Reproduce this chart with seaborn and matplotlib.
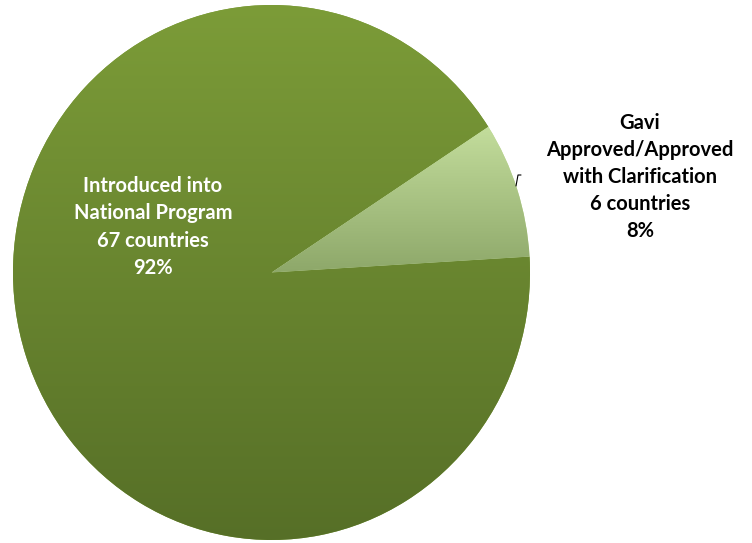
import matplotlib
matplotlib.use('Agg')
import matplotlib.pyplot as plt
import numpy as np
import seaborn as sns

## Data
CATEGORIES = ['Introduced into\nNational Program', 'Gavi\nApproved/Approved\nwith Clarification']
COUNTRIES = [67, 6]
PERCENT_LABELS = ['92%', '8%']

## Top and bottom colours of the gradient fill for each slice
GRADIENTS = [('#7c9c38', '#566f27'), ('#c3dd9c', '#8ea86a')]

sns.set_theme(style='white')
plt.rcParams['font.family'] = ['Lato', 'DejaVu Sans']

fig = plt.figure(figsize=(7.52, 5.43), dpi=100)
ax = fig.add_axes([13 / 752, 3 / 543, 517 / 752, 535 / 543])

wedges, _ = ax.pie(COUNTRIES, startangle=33, counterclock=True, radius=1.0,
                   colors=[g[0] for g in GRADIENTS], wedgeprops=dict(linewidth=0))
ax.set_aspect('auto')
ax.axis('off')

## Vertical gradient inside each wedge
for wedge, (top, bottom) in zip(wedges, GRADIENTS):
    path = wedge.get_path().transformed(wedge.get_patch_transform())
    ymin, ymax = path.vertices[:, 1].min(), path.vertices[:, 1].max()
    cmap = matplotlib.colors.LinearSegmentedColormap.from_list('g', [bottom, top])
    grad = np.linspace(0, 1, 256).reshape(-1, 1)
    im = ax.imshow(grad, cmap=cmap, aspect='auto', origin='lower',
                   extent=(-1.02, 1.02, ymin, ymax), zorder=2)
    im.set_clip_path(wedge)
ax.set_xlim(-1, 1)
ax.set_ylim(-1, 1)

## Labels
big = '%s\n%d countries\n%s' % (CATEGORIES[0], COUNTRIES[0], PERCENT_LABELS[0])
small = '%s\n%d countries\n%s' % (CATEGORIES[1], COUNTRIES[1], PERCENT_LABELS[1])
fig.text(153 / 752, 1 - 227 / 543, big, ha='center', va='center', color='white',
         fontsize=14.5, fontweight='bold', linespacing=1.45)
fig.text(640 / 752, 1 - 177 / 543, small, ha='center', va='center', color='black',
         fontsize=14.5, fontweight='bold', linespacing=1.45)

## Short leader line next to the small slice
fig.add_artist(matplotlib.lines.Line2D([516 / 752, 518 / 752, 521 / 752],
                                       [1 - 186 / 543, 1 - 175 / 543, 1 - 175 / 543],
                                       color='black', linewidth=0.8))

fig.savefig('out.png', dpi=100)
